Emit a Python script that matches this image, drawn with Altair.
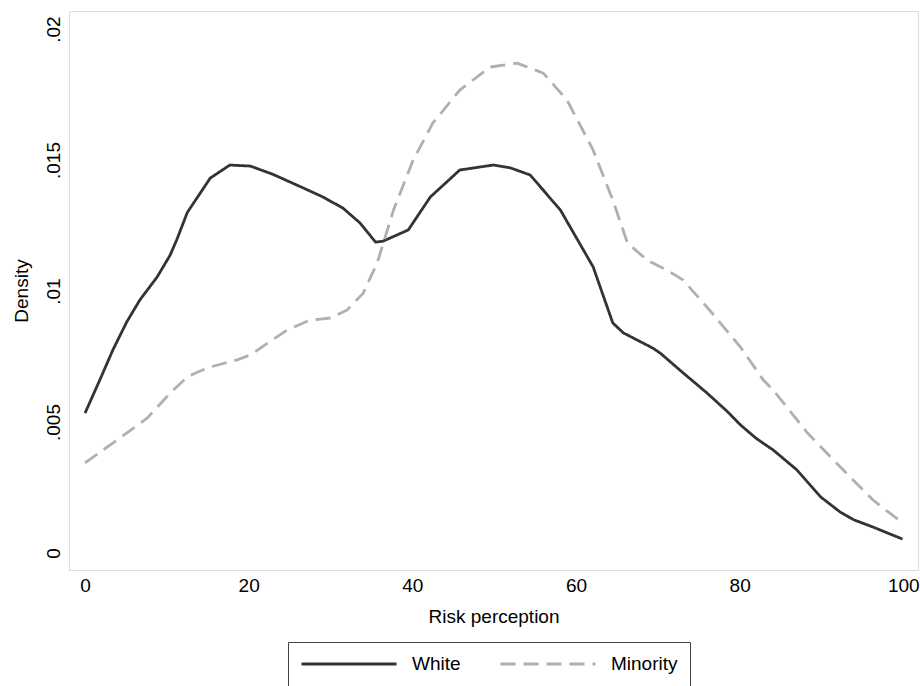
import altair as alt
import pandas as pd

# Kernel density estimates
white_x = [0, 1.8, 3.4, 5.1, 6.7, 8.8, 10.4, 11.2, 12.5, 15.3, 17.7, 20.2, 23, 26.7, 29, 31.5,
           33.6, 35.5, 36.4, 39.5, 42.2, 45.8, 49.9, 52, 54.4, 58.1, 62.1, 64.5, 65.8, 69.4,
           70.3, 73, 76, 78.5, 80.1, 82, 84.1, 87, 89.9, 92.3, 94, 96.3, 99.9]
white_y = [0.00534, 0.0066, 0.00775, 0.00882, 0.00966, 0.01053, 0.01137, 0.01195, 0.0130,
           0.01431, 0.01481, 0.01477, 0.01445, 0.01393, 0.0136, 0.01317, 0.0126, 0.01187,
           0.0119, 0.01233, 0.01359, 0.01462, 0.01481, 0.0147, 0.01443, 0.01309, 0.01092,
           0.00878, 0.0084, 0.00782, 0.00763, 0.0069, 0.00611, 0.0054, 0.00489, 0.00438,
           0.00393, 0.00317, 0.00214, 0.00156, 0.00126, 0.00099, 0.00053]

minority_x = [0, 3.9, 7.6, 10.4, 12.5, 13.7, 15.3, 18.6, 20.2, 24.7, 27.5, 30, 32, 34, 35.7,
              37.7, 40.1, 42.5, 45.8, 49.5, 52.8, 56, 58.9, 62.1, 64.5, 66.3, 68.7, 71.1,
              73.1, 76, 80.1, 82.9, 84.1, 88.3, 92.3, 96.3, 99.9]
minority_y = [0.00344, 0.00431, 0.00515, 0.0061, 0.00672, 0.0069, 0.0071, 0.00737, 0.00756,
              0.00851, 0.00889, 0.00897, 0.00927, 0.00992, 0.01107, 0.01309, 0.015, 0.01641,
              0.01767, 0.01855, 0.0187, 0.01832, 0.01729, 0.01538, 0.01347, 0.01183, 0.01118,
              0.0108, 0.01042, 0.00939, 0.00786, 0.0066, 0.00622, 0.00458, 0.00328, 0.00202,
              0.00115]

groups = ["White", "Minority"]
y_ticks = [0, 0.005, 0.01, 0.015, 0.02]
x_ticks = [0, 20, 40, 60, 80, 100]

df = pd.concat([
    pd.DataFrame({"x": white_x, "y": white_y, "group": groups[0]}),
    pd.DataFrame({"x": minority_x, "y": minority_y, "group": groups[1]}),
])

FONT = "Liberation Sans"
FS = 19

chart = alt.Chart(df).mark_line(strokeWidth=2.8).encode(
    x=alt.X("x:Q",
            scale=alt.Scale(domain=[-1.96, 101.8], nice=False, zero=False),
            axis=alt.Axis(values=x_ticks, title="Risk perception", grid=False, ticks=False,
                          domain=False, labelFontSize=FS, titleFontSize=FS,
                          labelFont=FONT, titleFont=FONT, titleFontWeight="normal",
                          labelColor="#000", titleColor="#000", labelPadding=6,
                          titlePadding=12, labelFlush=False)),
    y=alt.Y("y:Q",
            scale=alt.Scale(domain=[-0.00065, 0.02069], nice=False, zero=False),
            axis=alt.Axis(values=y_ticks, title="Density", grid=False, ticks=False,
                          domain=False, labelFontSize=FS, titleFontSize=FS,
                          labelFont=FONT, titleFont=FONT, titleFontWeight="normal",
                          labelColor="#000", titleColor="#000", labelAngle=270,
                          labelAlign="center", labelBaseline="bottom", labelPadding=6,
                          titlePadding=13, labelFlush=False,
                          labelExpr="replace(format(datum.value, '.3~f'), '0.', '.')")),
    color=alt.Color("group:N",
                    scale=alt.Scale(domain=groups, range=["#333333", "#b0b0b0"]),
                    title=None,
                    legend=alt.Legend(orient="none", legendX=219, legendY=631,
                                      direction="horizontal", padding=12,
                                      strokeColor="#444444", fillColor="#ffffff",
                                      symbolType="stroke", symbolSize=9025,
                                      symbolStrokeWidth=2.8, clipHeight=20,
                                      labelOffset=14, columnPadding=38,
                                      labelFontSize=FS, labelFont=FONT,
                                      labelColor="#000")),
    strokeDash=alt.StrokeDash("group:N",
                              scale=alt.Scale(domain=groups, range=[[1, 0], [15, 8]]),
                              title=None),
    order="x:Q",
).properties(
    width=849, height=559,
    autosize=alt.AutoSizeParams(type="none"),
    padding={"left": 69, "top": 11, "right": 2, "bottom": 116},
).configure_view(
    stroke="#333333", strokeWidth=2.5
).configure_legend(
    strokeWidth=2
).configure(background="white")

chart.save("out.html", embed_options={"renderer": "svg", "actions": False})
